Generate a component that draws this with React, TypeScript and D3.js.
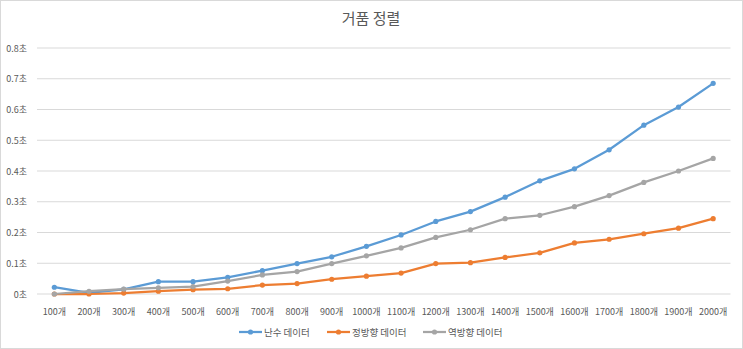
import React from "react";
import * as d3 from "d3";

const categories = ["100개","200개","300개","400개","500개","600개","700개","800개","900개","1000개","1100개","1200개","1300개","1400개","1500개","1600개","1700개","1800개","1900개","2000개"];
const randomData = [0.022,0.004,0.015,0.04,0.04,0.054,0.076,0.099,0.121,0.155,0.192,0.236,0.268,0.315,0.368,0.407,0.469,0.549,0.608,0.685];
const forwardData = [0,0,0.003,0.009,0.014,0.017,0.029,0.034,0.048,0.058,0.068,0.099,0.102,0.119,0.134,0.166,0.178,0.196,0.214,0.245];
const reverseData = [0,0.009,0.016,0.02,0.024,0.042,0.062,0.073,0.099,0.124,0.15,0.184,0.209,0.245,0.256,0.284,0.32,0.363,0.4,0.441];
const yTicks = [0,0.1,0.2,0.3,0.4,0.5,0.6,0.7,0.8];
const seriesNames = ["난수 데이터","정방향 데이터","역방향 데이터"];
const colors = ["#5B9BD5","#ED7D31","#A5A5A5"];

const W = 743, H = 349;
const FONT = "'Noto Sans CJK KR', 'Noto Sans', sans-serif";

export default function App() {
  const x = d3.scaleBand<string>().domain(categories).range([37, 730.5]);
  const y = d3.scaleLinear().domain([0, 0.8]).range([294, 48]);
  const cx = (c: string) => (x(c) as number) + x.bandwidth() / 2;
  const series = [randomData, forwardData, reverseData];
  const line = d3.line<number>().x((_, i) => cx(categories[i])).y((d) => y(d));
  const legendX = [239, 327, 423];
  return (
    <svg width={W} height={H} style={{ position: "absolute", left: 0, top: 0, background: "#fff" }} fontFamily={FONT}>
      <rect x={0.5} y={0.5} width={W - 1} height={H - 1} fill="#fff" stroke="#d9d9d9" />
      <text x={371} y={24} textAnchor="middle" fontSize={15} fill="#595959">거품 정렬</text>
      {yTicks.map((t) => (
        <g key={t}>
          <line x1={37} x2={730.5} y1={y(t)} y2={y(t)} stroke="#d9d9d9" strokeWidth={1} />
          <text x={27} y={y(t) + 3.5} textAnchor="end" fontSize={9} fill="#595959">{`${t === 0 ? "0" : d3.format(".1f")(t)}초`}</text>
        </g>
      ))}
      {categories.map((c) => (
        <text key={c} x={cx(c)} y={315} textAnchor="middle" fontSize={9} fill="#595959">{c}</text>
      ))}
      {series.map((s, k) => (
        <g key={k}>
          <path d={line(s) as string} fill="none" stroke={colors[k]} strokeWidth={2.25} strokeLinejoin="round" strokeLinecap="round" />
          {s.map((v, i) => (
            <circle key={i} cx={cx(categories[i])} cy={y(v)} r={2.6} fill={colors[k]} />
          ))}
        </g>
      ))}
      {seriesNames.map((n, k) => (
        <g key={n}>
          <line x1={legendX[k]} x2={legendX[k] + 23} y1={332} y2={332} stroke={colors[k]} strokeWidth={2.25} />
          <circle cx={legendX[k] + 11.5} cy={332} r={2.6} fill={colors[k]} />
          <text x={legendX[k] + 25} y={335.5} fontSize={9.5} fill="#595959">{n}</text>
        </g>
      ))}
    </svg>
  );
}
